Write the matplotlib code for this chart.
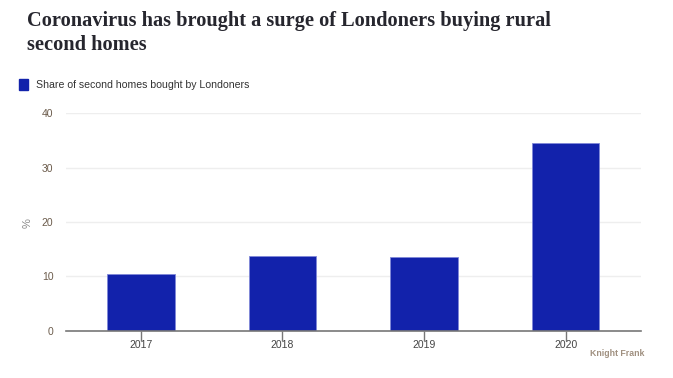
import matplotlib
matplotlib.use("Agg")
import matplotlib.pyplot as plt

years = ["2017", "2018", "2019", "2020"]
share = [10.4, 13.8, 13.5, 34.6]
y_ticks = [0, 10, 20, 30, 40]

BAR = "#1222ab"
TXT = "#6b5b4b"
SANS = ["Liberation Sans", "DejaVu Sans"]
SERIF = ["Liberation Serif", "DejaVu Serif"]

fig = plt.figure(figsize=(6.73, 3.78), dpi=100)
ax = fig.add_axes([66 / 673, 1 - 330.7 / 378, (640.7 - 66) / 673, (330.7 - 113.3) / 378])

x = range(len(years))
ax.bar(x, share, width=0.477, color=BAR, edgecolor="#8088d8", linewidth=0.6, zorder=3)

ax.set_xlim(-0.529, 3.53)
ax.set_ylim(0, 40)
ax.set_xticks(list(x))
ax.set_xticklabels(years, family=SANS, fontsize=7.5, color="#444444")
ax.set_yticks(y_ticks)
ax.set_yticklabels([str(t) for t in y_ticks], family=SANS, fontsize=7.5, color=TXT)
ax.tick_params(axis="x", length=7, width=1, color="#777777", pad=0)
ax.tick_params(axis="y", length=0, pad=9)
ax.grid(True, axis="y", color="#eeeeee", linewidth=1, zorder=0)
ax.set_axisbelow(True)
for s in ["top", "right", "left"]:
    ax.spines[s].set_visible(False)
ax.spines["bottom"].set_color("#777777")
ax.spines["bottom"].set_linewidth(1.2)
ax.spines["bottom"].set_zorder(4)

fig.text(28 / 673, 1 - 222.7 / 378, "%", rotation=90, ha="center", va="center",
         family=SANS, fontsize=8, color="#888888")

fig.text(27 / 673, 1 - 26 / 378, "Coronavirus has brought a surge of Londoners buying rural",
         family=SERIF, fontweight="bold", fontsize=14.7,
         color="#26262e", va="baseline", ha="left")
fig.text(27 / 673, 1 - 50 / 378, "second homes",
         family=SERIF, fontweight="bold", fontsize=14.7,
         color="#26262e", va="baseline", ha="left")

fig.patches.append(plt.Rectangle((19 / 673, 1 - 89.5 / 378), 9 / 673, 10 / 378,
                                 transform=fig.transFigure, color=BAR, figure=fig))
fig.text(36 / 673, 1 - 85 / 378, "Share of second homes bought by Londoners",
         family=SANS, fontsize=7.6, color="#333333", va="center", ha="left")

fig.text(644 / 673, 1 - 354 / 378, "Knight Frank", family=SANS, fontsize=6.3,
         color="#a09080", ha="right", va="center", fontweight="bold")

plt.savefig("out.png", dpi=100)
